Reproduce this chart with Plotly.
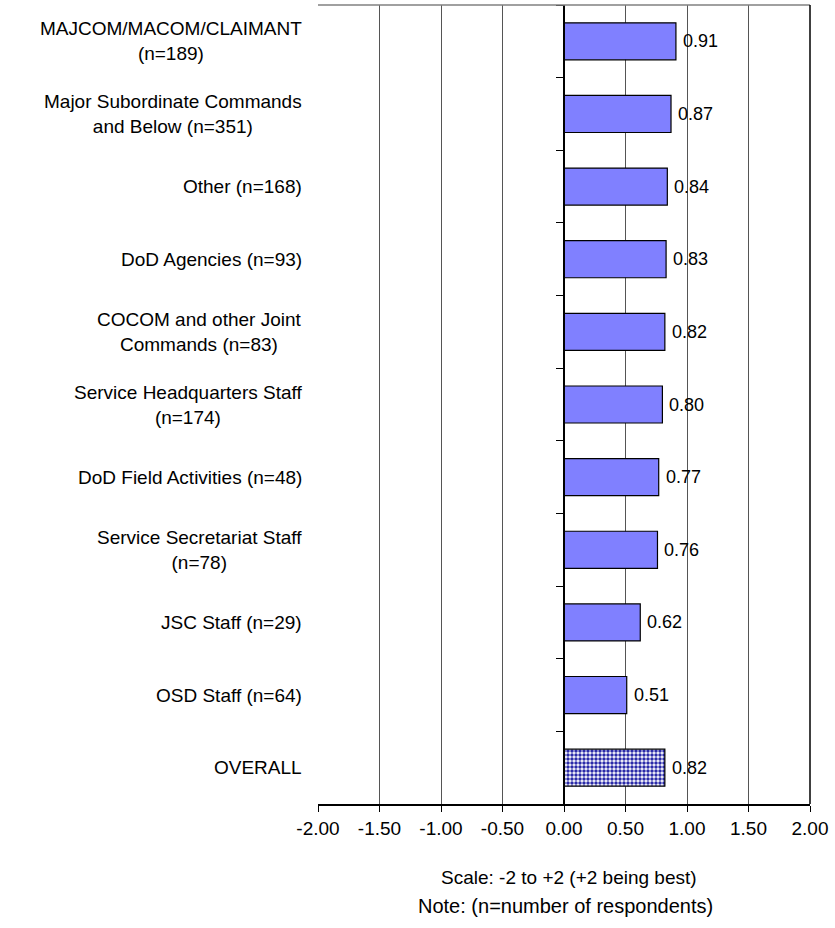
import plotly.graph_objects as go

# Survey groups, top to bottom, with mean scores
groups = [
    "MAJCOM/MACOM/CLAIMANT<br>(n=189)",
    "Major Subordinate Commands<br>and Below (n=351)",
    "Other (n=168)",
    "DoD Agencies (n=93)",
    "COCOM and other Joint<br>Commands (n=83)",
    "Service Headquarters Staff<br>(n=174)",
    "DoD Field Activities (n=48)",
    "Service Secretariat Staff<br>(n=78)",
    "JSC Staff (n=29)",
    "OSD Staff (n=64)",
    "OVERALL",
]
scores = [0.91, 0.87, 0.84, 0.83, 0.82, 0.80, 0.77, 0.76, 0.62, 0.51, 0.82]
x_ticks = [-2.0, -1.5, -1.0, -0.5, 0.0, 0.5, 1.0, 1.5, 2.0]

FONT = "Arial, Liberation Sans, sans-serif"
ids = list(range(len(groups)))
patterns = ["" if g != "OVERALL" else "." for g in groups]

fig = go.Figure()
fig.add_trace(go.Bar(
    x=scores,
    y=ids,
    orientation="h",
    width=0.51,
    marker=dict(
        color="#8080FF",
        line=dict(color="black", width=1.2),
        pattern=dict(shape=patterns, fgcolor="#2a2aa8", bgcolor="white",
                     size=4, solidity=0.6, fillmode="replace"),
    ),
    hoverinfo="skip",
))

annotations = []
# Value labels just past each bar end
for i, v in enumerate(scores):
    annotations.append(dict(
        x=v, xref="x", y=i, yref="y",
        text=f"{v:.2f}", showarrow=False, xanchor="left", yanchor="middle",
        xshift=5,
        font=dict(family=FONT, size=18, color="black"),
    ))
# Group labels, centered line-by-line, right-aligned to the plot edge
for i, g in enumerate(groups):
    annotations.append(dict(
        x=0, xref="paper", y=i, yref="y",
        text=g, showarrow=False, xanchor="right", yanchor="middle",
        align="center", xshift=-14,
        font=dict(family=FONT, size=19, color="black"),
    ))
annotations.append(dict(
    x=0.51, xref="paper", y=-0.0914, yref="paper",
    text="Scale: -2 to +2 (+2 being best)", showarrow=False,
    xanchor="center", yanchor="middle",
    font=dict(family=FONT, size=19, color="black"),
))
annotations.append(dict(
    x=0.504, xref="paper", y=-0.1277, yref="paper",
    text="Note: (n=number of respondents)", showarrow=False,
    xanchor="center", yanchor="middle",
    font=dict(family=FONT, size=20, color="black"),
))

fig.update_layout(
    width=835, height=928,
    margin=dict(l=318, r=25, t=5, b=124),
    paper_bgcolor="white", plot_bgcolor="white",
    showlegend=False,
    annotations=annotations,
    shapes=[
        dict(type="line", xref="paper", yref="paper", x0=0, x1=1, y0=1, y1=1,
             line=dict(color="#808080", width=1.5)),
        dict(type="line", xref="paper", yref="paper", x0=1, x1=1, y0=0, y1=1,
             line=dict(color="black", width=1.5)),
    ],
    xaxis=dict(
        range=[-2, 2],
        tickvals=x_ticks,
        ticktext=[f"{v:.2f}" for v in x_ticks],
        showgrid=True, gridcolor="#555555", gridwidth=1,
        zeroline=False,
        showline=True, linecolor="black", linewidth=1.5,
        ticks="outside", ticklen=6, tickcolor="black",
        tickfont=dict(family=FONT, size=19, color="black"),
    ),
    yaxis=dict(
        type="category",
        range=[len(groups) - 0.5, -0.5],
        tickvals=ids,
        showticklabels=False,
        showgrid=False, zeroline=False,
        anchor="free", position=0.5,
        showline=True, linecolor="black", linewidth=1.5,
        ticks="outside", tickson="boundaries", ticklen=7, tickcolor="black",
    ),
)

fig.write_html("out.html")
